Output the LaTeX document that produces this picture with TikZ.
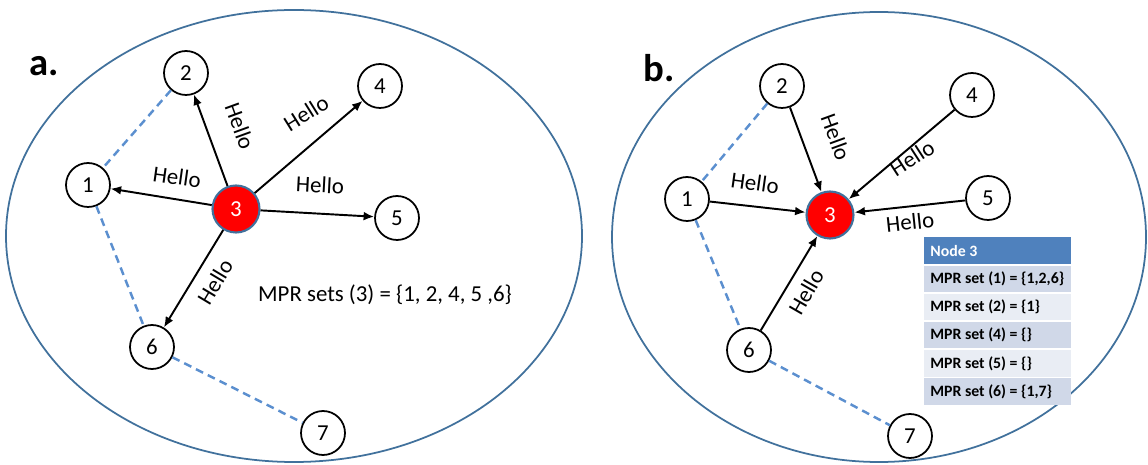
\documentclass[tikz,border=0pt]{standalone}
\usepackage{fontspec}
\setmainfont{Carlito}
\usetikzlibrary{positioning,arrows.meta}
\definecolor{ringblue}{HTML}{41719C}
\definecolor{dashblue}{HTML}{5B8FCF}
\definecolor{headblue}{HTML}{4F81BD}
\definecolor{rowdark}{HTML}{D0D8E8}
\definecolor{rowlight}{HTML}{E9EDF4}

\begin{document}
\begin{tikzpicture}[x=0.02cm,y=-0.02cm,
    peer/.style={circle,draw,line width=1pt,minimum size=0.88cm,inner sep=0pt,fill=white,font=\fontsize{13}{13}\selectfont},
    origin/.style={peer,fill=red,draw=ringblue,line width=1.2pt,text=white,minimum size=0.94cm},
    hello/.style={-{Latex[length=6pt,width=5pt]},line width=1.1pt},
    link/.style={dashblue,line width=1.4pt,dash pattern=on 4.5pt off 3pt},
    lbl/.style={font=\fontsize{13}{13}\selectfont},
    tag/.style={font=\fontsize{22}{22}\selectfont\bfseries},
    row/.style={anchor=north west,minimum width=2.94cm,minimum height=0.53cm,inner xsep=0.12cm,inner ysep=0pt,text width=2.7cm,align=flush left,font=\fontsize{9}{9}\selectfont\bfseries}]
    \useasboundingbox (0,0) rectangle (1148,465);

    % panel a
    \draw[ringblue,line width=1pt] (294,236) ellipse [x radius=288, y radius=226];
    \node[tag] (tagA) at (44,66) {a.};
    \node[peer] (a1) at (88,185) {1};
    \node[peer] (a2) at (186,73) {2};
    \node[origin] (a3) at (236,209) {3};
    \node[peer] (a4) at (380,86) {4};
    \node[peer] (a5) at (397,218) {5};
    \node[peer] (a6) at (152,347) {6};
    \node[peer] (a7) at (323,433) {7};

    \draw[link] (a2) -- (a1);
    \draw[link] (a1) -- (a6);
    \draw[link] (a6) -- (a7);

    \draw[hello] (a3) -- (a1);
    \draw[hello] (a3) -- (a2);
    \draw[hello] (a3) -- (a4);
    \draw[hello] (a3) -- (a5);
    \draw[hello] (a3) -- (a6);

    \node[lbl,rotate=-8] (ha1) at (177,177) {Hello};
    \node[lbl,rotate=-70] (ha2) at (240,126) {Hello};
    \node[lbl,rotate=32] (ha4) at (306,113) {Hello};
    \node[lbl,rotate=-3] (ha5) at (320,185) {Hello};
    \node[lbl,rotate=59] (ha6) at (215,282) {Hello};
    \node[lbl] (mpr) at (385,295) {MPR sets (3) = \{1, 2, 4, 5 ,6\}};

    % panel b
    \draw[ringblue,line width=1pt] (879,237) ellipse [x radius=267, y radius=225];
    \node[tag] (tagB) at (659,68) {b.};
    \node[peer] (b1) at (687,199) {1};
    \node[peer] (b2) at (782,86) {2};
    \node[origin] (b3) at (830,215) {3};
    \node[peer] (b4) at (972,95) {4};
    \node[peer] (b5) at (988,198) {5};
    \node[peer] (b6) at (749,350) {6};
    \node[peer] (b7) at (910,436) {7};

    \draw[link] (b2) -- (b1);
    \draw[link] (b1) -- (b6);
    \draw[link] (b6) -- (b7);

    \draw[hello] (b1) -- (b3);
    \draw[hello] (b2) -- (b3);
    \draw[hello] (b4) -- (b3);
    \draw[hello] (b5) -- (b3);
    \draw[hello] (b6) -- (b3);

    \node[lbl,rotate=-8] (hb1) at (755,183) {Hello};
    \node[lbl,rotate=-70] (hb2) at (836,137) {Hello};
    \node[lbl,rotate=33] (hb4) at (912,158) {Hello};
    \node[lbl,rotate=6] (hb5) at (910,222) {Hello};
    \node[lbl,rotate=60] (hb6) at (806,292) {Hello};

    % table of node 3
    \node[row,fill=headblue,text=white] (head) at (924,237) {Node 3};
    \node[row,fill=rowdark,below=0.02cm of head] (mpr1) {MPR set (1) = \{1,2,6\}};
    \node[row,fill=rowlight,below=0.02cm of mpr1] (mpr2) {MPR set (2) = \{1\}};
    \node[row,fill=rowdark,below=0.02cm of mpr2] (mpr4) {MPR set (4) = \{\}};
    \node[row,fill=rowlight,below=0.02cm of mpr4] (mpr5) {MPR set (5) = \{\}};
    \node[row,fill=rowdark,below=0.02cm of mpr5] (mpr6) {MPR set (6) = \{1,7\}};
\end{tikzpicture}
\end{document}
